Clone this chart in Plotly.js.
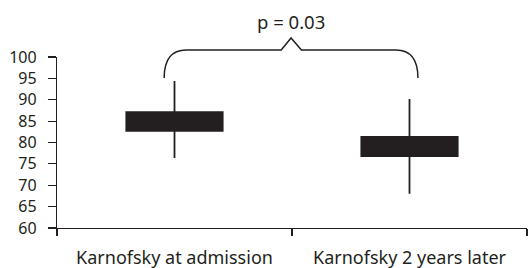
<!DOCTYPE html>
<html><head><meta charset="utf-8">
<script src="https://cdn.plot.ly/plotly-3.0.1.min.js"></script>
<style>html,body{margin:0;padding:0;background:#fff}#c{width:528px;height:268px}</style>
</head><body><div id="c"></div>
<script>
const categories = ["Karnofsky at admission", "Karnofsky 2 years later"];
const q1Vals = [82.7, 76.8];
const medianVals = [85, 79];
const q3Vals = [87.1, 81.3];
const lowVals = [76.4, 68.0];
const highVals = [94.4, 90.2];
const yTicks = [60, 65, 70, 75, 80, 85, 90, 95, 100];
const pText = "p = 0.03";

const ink = "#231f20";
const font = "Noto Sans, sans-serif";

const trace = {
  type: "box",
  x: categories,
  q1: q1Vals, median: medianVals, q3: q3Vals,
  lowerfence: lowVals, upperfence: highVals,
  width: 0.41,
  whiskerwidth: 0,
  fillcolor: ink,
  line: {color: ink, width: 1.8},
  boxpoints: false,
  hoverinfo: "skip",
  showlegend: false
};

const layout = {
  width: 528, height: 268,
  margin: {l: 57, r: 1, t: 57, b: 40},
  paper_bgcolor: "#fff", plot_bgcolor: "#fff",
  font: {family: font, size: 18, color: ink},
  showlegend: false,
  xaxis: {
    type: "category", range: [-0.5, 1.5],
    showline: true, linecolor: ink, linewidth: 1.2,
    ticks: "outside", tickson: "boundaries", ticklen: 7, tickcolor: ink, tickwidth: 1.2,
    ticklabelstandoff: 13,
    showgrid: false, zeroline: false,
    tickfont: {family: font, size: 18, color: ink}
  },
  yaxis: {
    range: [60, 100], tickvals: yTicks, ticktext: yTicks.map(String),
    showline: true, linecolor: ink, linewidth: 1.2,
    ticks: "outside", ticklen: 8, tickcolor: ink, tickwidth: 1.2,
    ticklabelstandoff: 8,
    showgrid: false, zeroline: false,
    tickfont: {family: font, size: 16, color: ink}
  },
  shapes: [{
    type: "path", xref: "paper", yref: "paper",
    path: "M 0.228,0.877 Q 0.228,1.041 0.275,1.041 L 0.477,1.041 L 0.498,1.111 L 0.520,1.041 L 0.721,1.041 Q 0.768,1.041 0.768,0.877",
    line: {color: ink, width: 1.5}
  }],
  annotations: [{
    xref: "paper", yref: "paper", x: 0.498, y: 1.21,
    xanchor: "center", yanchor: "middle", showarrow: false,
    text: pText, font: {family: font, size: 18.5, color: ink}
  }]
};

Plotly.newPlot("c", [trace], layout, {staticPlot: true, displayModeBar: false});
</script>
</body></html>
